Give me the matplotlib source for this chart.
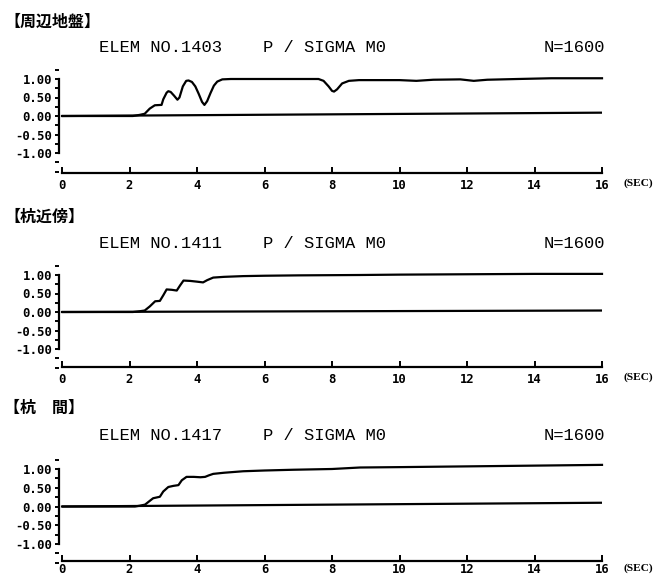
import numpy as np
import matplotlib
matplotlib.use('Agg')
import matplotlib.pyplot as plt
from matplotlib.ticker import MultipleLocator, FormatStrFormatter

plt.rcParams['font.family'] = ['DejaVu Sans']

W, H = 657, 577

# panel headers
titles = ['【周辺地盤】', '【杭近傍】', '【杭　間】']
elems = ['ELEM NO.1403', 'ELEM NO.1411', 'ELEM NO.1417']
quantity = 'P / SIGMA M0'
nstep = 'N=1600'

# P / SIGMA M0 time histories (t in sec)
t1 = [0, 2.1, 2.3, 2.45, 2.6, 2.75, 2.95, 3.0, 3.1, 3.15, 3.22, 3.32, 3.42, 3.48,
      3.58, 3.68, 3.75, 3.85, 3.95, 4.05, 4.15, 4.22, 4.3, 4.4, 4.5, 4.6, 4.75,
      5.0, 6.0, 7.0, 7.6, 7.75, 7.9, 8.0, 8.06, 8.15, 8.3, 8.5, 8.8, 9.5, 10.0,
      10.5, 11.0, 11.8, 12.2, 12.6, 13.5, 14.5, 15.0, 16.0]
v1 = [0, 0, 0.03, 0.06, 0.2, 0.29, 0.3, 0.45, 0.63, 0.67, 0.65, 0.55, 0.44, 0.5,
      0.8, 0.95, 0.96, 0.92, 0.8, 0.6, 0.38, 0.3, 0.4, 0.62, 0.82, 0.93, 0.99,
      1.0, 1.0, 1.0, 1.0, 0.95, 0.8, 0.68, 0.66, 0.72, 0.88, 0.95, 0.97, 0.97, 0.97,
      0.95, 0.98, 0.99, 0.95, 0.98, 1.0, 1.02, 1.02, 1.02]
t2 = [0, 2.1, 2.3, 2.45, 2.6, 2.76, 2.9, 3.0, 3.1, 3.25, 3.4, 3.5, 3.6, 3.8, 4.0,
      4.18, 4.3, 4.48, 4.8, 5.37, 6.0, 7.0, 8.83, 10, 12, 14, 16]
v2 = [0, 0, 0.02, 0.04, 0.15, 0.29, 0.3, 0.45, 0.61, 0.6, 0.58, 0.72, 0.85, 0.84,
      0.82, 0.80, 0.86, 0.93, 0.95, 0.97, 0.98, 0.99, 1.0, 1.01, 1.02, 1.03, 1.03]
t3 = [0, 2.16, 2.3, 2.46, 2.6, 2.7, 2.9, 3.0, 3.15, 3.3, 3.45, 3.55, 3.69, 3.9, 4.1,
      4.24, 4.35, 4.48, 4.8, 5.37, 6.0, 6.85, 8.0, 8.83, 10, 12, 14, 16]
v3 = [0, 0, 0.02, 0.05, 0.15, 0.22, 0.26, 0.4, 0.52, 0.55, 0.57, 0.7, 0.79, 0.79,
      0.78, 0.79, 0.83, 0.87, 0.9, 0.94, 0.96, 0.98, 1.0, 1.04, 1.05, 1.07, 1.09, 1.11]

# second (zero) line
tb = [0, 16]
b1 = [0, 0.09]
b2 = [0, 0.04]
b3 = [0, 0.1]

# pixel layout per panel: y of +1, 0, -1, x-axis line, title, header, label pad
layout = [(79, 116, 153, 173, 22, 47, 4),
          (275, 312, 349, 367, 217, 243, 4),
          (469, 506.5, 544, 561, 408, 435, 1.5)]

x0px, xs = 62, 33.75

fig = plt.figure(figsize=(W/100, H/100), dpi=100)

series = [(t1, v1, b1), (t2, v2, b2), (t3, v3, b3)]

for i, (t, v, b) in enumerate(series):
    y1, y0, ym1, xax, ty, ey, xpad = layout[i]
    ys = (ym1 - y1) / 2.0
    left, right = 40, 622
    top, bot = y1 - 12, xax + 2
    ax = fig.add_axes([left/W, 1 - bot/H, (right-left)/W, (bot-top)/H])
    ax.set_xlim((left - x0px)/xs, (right - x0px)/xs)
    ax.set_ylim((y0 - bot)/ys, (y0 - top)/ys)
    ax.patch.set_visible(False)

    ax.plot(tb, b, color='black', lw=1.6, solid_capstyle='butt', clip_on=False)
    ax.plot(t, v, color='black', lw=1.6, solid_joinstyle='round', clip_on=False)

    for s in ['top', 'right']:
        ax.spines[s].set_visible(False)
    ax.spines['left'].set_position(('data', -0.08))
    ax.spines['left'].set_bounds(-1, 1)
    ax.spines['bottom'].set_position(('data', (y0 - xax)/ys))
    ax.spines['bottom'].set_bounds(0, 16)
    ax.spines['left'].set_linewidth(1.6)
    ax.spines['bottom'].set_linewidth(1.6)

    ax.yaxis.set_major_locator(MultipleLocator(0.5))
    ax.yaxis.set_minor_locator(MultipleLocator(0.25))
    ax.yaxis.set_major_formatter(FormatStrFormatter('%.2f'))
    ax.xaxis.set_major_locator(MultipleLocator(2))
    ax.tick_params(axis='y', which='both', direction='out', length=3.2, width=1.4, pad=2)
    ax.tick_params(axis='x', which='both', direction='in', length=4.5, width=1.4, pad=xpad)
    ax.set_xticks(np.arange(0, 17, 2))
    ax.set_yticks(np.arange(-1, 1.01, 0.5))
    for lab in ax.get_yticklabels() + ax.get_xticklabels():
        lab.set_fontfamily('DejaVu Sans Mono')
        lab.set_fontweight('bold')
        lab.set_fontsize(8.8)

    fig.text(624/W, 1 - (xax + 5 + 1.4*xpad)/H, '(SEC)', fontsize=8.2, fontweight='bold',
             family='Liberation Serif', va='center', ha='left')

    fig.text(4/W, 1 - ty/H, titles[i], fontsize=11.5, fontweight='bold',
             family=['Noto Sans CJK JP', 'DejaVu Sans'], va='center', ha='left')
    fig.text(99/W, 1 - ey/H, elems[i], fontsize=12.3, family='Liberation Mono',
             va='center', ha='left')
    fig.text(263/W, 1 - ey/H, quantity, fontsize=12.3, family='Liberation Mono',
             va='center', ha='left')
    fig.text(605/W, 1 - ey/H, nstep, fontsize=12.3, family='Liberation Mono',
             va='center', ha='right')

fig.savefig('out.png', dpi=100)
